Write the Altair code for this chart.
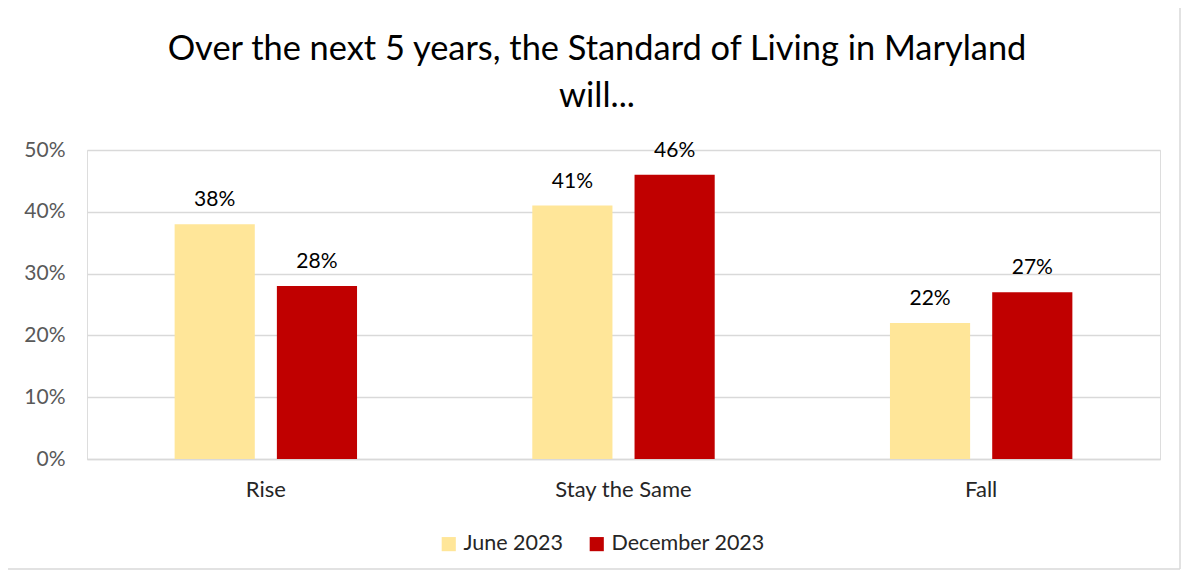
import altair as alt
import pandas as pd

categories = ["Rise", "Stay the Same", "Fall"]
series = ["June 2023", "December 2023"]
june = [0.38, 0.41, 0.22]
december = [0.28, 0.46, 0.27]
colors = ["#FFE699", "#C00000"]
title_lines = ["Over the next 5 years, the Standard of Living in Maryland", "will..."]

rows = []
for c, j, d in zip(categories, june, december):
    rows.append({"category": c, "series": series[0], "value": j})
    rows.append({"category": c, "series": series[1], "value": d})
df = pd.DataFrame(rows)

W, H = 1073, 309
PL, PT, PR, PB = 79, 142, 21, 112
FONT = "Lato"

x = alt.X("category:N", sort=categories, title=None,
          scale=alt.Scale(paddingInner=0.49, paddingOuter=0.245),
          axis=alt.Axis(labelAngle=0, labelFontSize=22, labelColor="#262626",
                        labelFont=FONT, labelPadding=20, ticks=False,
                        domainColor="#D9D9D9", domainWidth=1.5))
xo = alt.XOffset("series:N", sort=series,
                 scale=alt.Scale(paddingInner=0.216, paddingOuter=0))
y = alt.Y("value:Q", title=None,
          scale=alt.Scale(domain=[0, 0.5]),
          axis=alt.Axis(format=".0%", values=[0, 0.1, 0.2, 0.3, 0.4, 0.5],
                        labelFontSize=21, labelColor="#595959", labelFont=FONT,
                        labelPadding=22, ticks=False, domain=False,
                        gridColor="#D9D9D9", gridWidth=1.5))

bars = alt.Chart(df).mark_bar().encode(
    x=x, xOffset=xo, y=y,
    color=alt.Color("series:N", sort=series,
                    scale=alt.Scale(domain=series, range=colors),
                    legend=alt.Legend(title=None, orient="none", direction="horizontal",
                                      legendX=351, legendY=383,
                                      symbolType="square", symbolSize=200,
                                      symbolStrokeWidth=0,
                                      labelFontSize=21.5, labelFont=FONT,
                                      labelColor="#262626", columnPadding=22,
                                      labelOffset=4)),
)

labels = alt.Chart(df).mark_text(baseline="bottom", dy=-14, fontSize=21,
                                 font=FONT, color="#000000").encode(
    x=alt.X("category:N", sort=categories),
    xOffset=alt.XOffset("series:N", sort=series),
    y="value:Q",
    text=alt.Text("value:Q", format=".0%"),
)

title1 = alt.Chart(pd.DataFrame({"t": [title_lines[0]]})).mark_text(
    fontSize=34.4, font=FONT, color="#000000", align="center", baseline="middle").encode(
    text="t:N", x=alt.value(510), y=alt.value(-100))
title2 = alt.Chart(pd.DataFrame({"t": [title_lines[1]]})).mark_text(
    fontSize=34.4, font=FONT, color="#000000", align="center", baseline="middle").encode(
    text="t:N", x=alt.value(510), y=alt.value(-53))

one = pd.DataFrame({"a": [0]})
bstyle = dict(color="#D9D9D9", strokeWidth=1.5)
L, R, T, B = -82, W + PR - 1, -147, H + PB - 2
b_top = alt.Chart(one).mark_rule(**bstyle).encode(
    x=alt.value(L), x2=alt.value(R), y=alt.value(T))
b_bot = alt.Chart(one).mark_rule(**bstyle).encode(
    x=alt.value(L), x2=alt.value(R), y=alt.value(B))
b_left = alt.Chart(one).mark_rule(**bstyle).encode(
    x=alt.value(L), y=alt.value(T), y2=alt.value(B))
b_right = alt.Chart(one).mark_rule(**bstyle).encode(
    x=alt.value(R), y=alt.value(T), y2=alt.value(B))

chart = alt.layer(b_top, b_bot, b_left, b_right, bars, labels, title1, title2).properties(
    width=W, height=H,
    autosize=alt.AutoSizeParams(type="none"),
    padding={"left": PL, "top": PT, "right": PR, "bottom": PB},
).configure_view(stroke=None).configure(background="white")

chart.save("out.html", embed_options={"renderer": "svg", "actions": False})
